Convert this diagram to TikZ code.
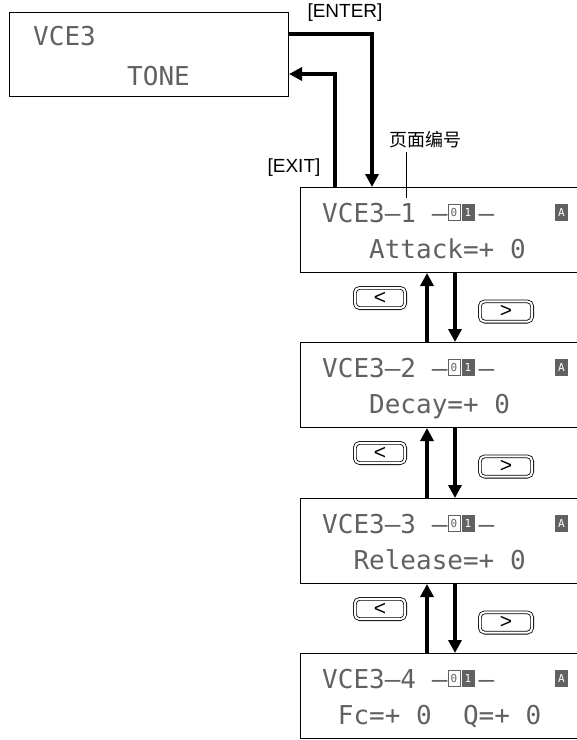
\documentclass[tikz,border=0pt]{standalone}
\usepackage{fontspec}
\setmainfont{Liberation Sans}
\newfontfamily\lcdfont{DejaVu Sans Mono}
\newfontfamily\cjkfont{Noto Sans CJK SC}
\usetikzlibrary{arrows.meta,positioning}
\begin{document}
\begin{tikzpicture}[x=1pt, y=-1pt,
		schermo/.style={draw=black, line width=1pt, inner sep=0pt, anchor=north west,
			minimum width=290pt, minimum height=85pt},
		lcd/.style={anchor=base west, inner sep=0pt, text=black!62,
			font=\lcdfont\fontsize{26}{26}\selectfont},
		casella/.style={draw=black!62, line width=0.9pt, inner sep=0pt,
			minimum width=12pt, minimum height=16pt, text=black!62,
			font=\lcdfont\fontsize{11}{11}\selectfont},
		piena/.style={casella, fill=black!62, text=white},
		freccia/.style={line width=3.3pt, -{Triangle[width=13pt,length=13pt]}},
		tasto/.style={draw=black, double, double distance=2pt, line width=0.8pt,
			rounded corners=5pt, inner sep=0pt, minimum width=50.4pt,
			minimum height=20.4pt, font=\fontsize{21}{21}\selectfont},
		etich/.style={inner sep=0pt, font=\fontsize{19}{19}\selectfont},
		]
		\useasboundingbox (0,0) rectangle (577,740);
		\clip (0,0) rectangle (577,740);
		
		%% schermo di partenza ----------------------------------
		\node[schermo, minimum width=279pt, minimum height=84pt] (vce) at (9,12) {};
		\node[lcd] (vceA) at (33,45) {VCE3};
		\node[lcd] (vceB) at (127,85) {TONE};
		
		%% pagine VCE3-1 ... VCE3-4
		\foreach \i/\t/\riga in {1/187/{~~~Attack=+~0}, 2/342/{~~~Decay=+~0},
			3/498/{~~Release=+~0}, 4/653/{~Fc=+~0~~Q=+~0}}{
			\node[schermo] (p\i) at (300,\t) {};
			\node[lcd] (riga\i) at (322,\t+35) {VCE3–\i~–~~–};
			\node[lcd] (valore\i) at (322,\t+71) {\riga};
			\node[casella] (zero\i) at (454,\t+25.5) {0};
			\node[piena] (uno\i) at (468,\t+25.5) {1};
			\node[piena] (modo\i) at (561.5,\t+25.5) {A};
		}
		
		%% tasti < > e passaggi tra le pagine
		\foreach \i [evaluate=\i as \j using int(\i+1)] in {1,2,3}{
			\draw[freccia] ([xshift=127pt]p\j.north west) -- ([xshift=127pt]p\i.south west);
			\draw[freccia] ([xshift=155pt]p\i.south west) -- ([xshift=155pt]p\j.north west);
			\node[tasto] (sin\i) at ([xshift=80pt,yshift=-25pt]p\i.south west) {<};
			\node[tasto, minimum width=52.4pt] (des\i)
				at ([xshift=206pt,yshift=-38.5pt]p\i.south west) {>};
		}
		
		%% [ENTER] / [EXIT]
		\draw[freccia] ([yshift=-22pt]vce.north east) -| ([xshift=72pt]p1.north west);
		\draw[freccia] ([xshift=35pt]p1.north west) |- ([yshift=-62pt]vce.north east);
		\node[etich] (enter) at (345,13) {[ENTER]};
		\node[etich] (exit) at (294,168) {[EXIT]};
		
		%% numero di pagina
		\node[etich, font=\cjkfont\fontsize{18}{18}\selectfont] (pagina) at (425,140) {页面编号};
		\coordinate (numpag) at (406,198);
		\draw[line width=0.8pt] ([yshift=-3pt]pagina.south -| numpag) -- (numpag);
		
\end{tikzpicture}
\end{document}
